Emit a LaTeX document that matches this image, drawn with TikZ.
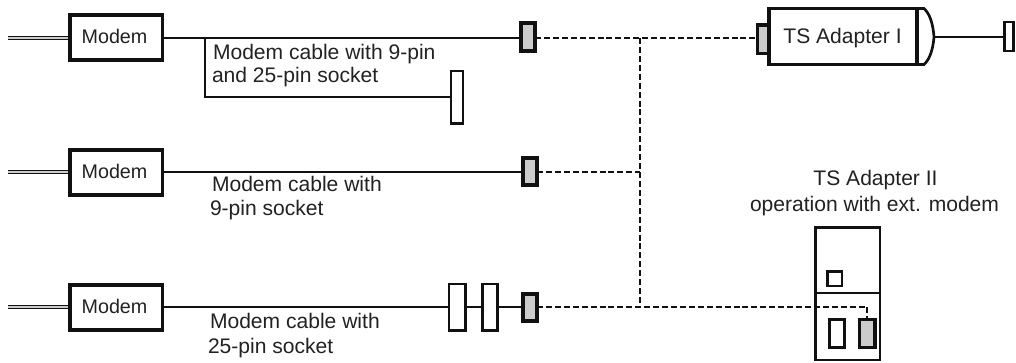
\documentclass[tikz,border=0pt]{standalone}
\usepackage{fontspec}
\setmainfont{Liberation Sans}
\definecolor{ink}{HTML}{111111}
\definecolor{txt}{HTML}{222222}
\definecolor{fillgray}{HTML}{CCCCCC}
\tikzset{
  every node/.style={inner sep=0pt,outer sep=0pt},
  hardbox/.style={draw=ink,line width=2.7pt,fill=white},
  thinbox/.style={draw=ink,line width=2.2pt,fill=white},
  graybox/.style={draw=ink,line width=2.6pt,fill=fillgray},
  wire/.style={draw=ink,line width=1.3pt},
  dashwire/.style={draw=ink,line width=1.3pt,dash pattern=on 4.5pt off 2.2pt},
  phone/.style={draw=ink,line width=1pt,double=fillgray,double distance=1.4pt},
  lbl/.style={font=\fontsize{15.8pt}{18pt}\selectfont,text=txt,anchor=base west},
  lblc/.style={font=\fontsize{15.8pt}{18pt}\selectfont,text=txt,anchor=base},
  modemlbl/.style={font=\fontsize{14.8pt}{18pt}\selectfont,text=txt,anchor=base}
}
\newcommand{\place}[7]{\node[#2,minimum width={(#5-#3)*0.75pt},minimum height={(#6-#4)*0.75pt}] (#1) at ({(#3+#5)/2},{(#4+#6)/2}) {#7};}
\begin{document}
\begin{tikzpicture}[x=0.75pt,y=-0.75pt]
\useasboundingbox (0,0) rectangle (1016,362);
\fill[white] (0,0) rectangle (1016,362);
% free ends and junctions
\coordinate (p1) at (8,38);
\coordinate (p2) at (8,172);
\coordinate (p3) at (8,307);
\coordinate (j1) at (205,38);
\coordinate (t1) at (640,38);
\coordinate (t2) at (640,172);
\coordinate (t3) at (640,307);
% wires first
\path[phone] (p1) -- (70,38);
\path[phone] (p2) -- (70,172);
\path[phone] (p3) -- (70,307);
% Modems
\place{m1}{hardbox}{70}{15}{162.5}{60}{}
\place{m2}{hardbox}{70}{150}{162.5}{195}{}
\place{m3}{hardbox}{70}{285}{162.5}{330}{}
\node[modemlbl] at (114.5,43) {Modem};
\node[modemlbl] at (114.5,178) {Modem};
\node[modemlbl] at (114.5,313) {Modem};
% Connectors
\place{g1}{graybox}{521}{23}{535}{51}{}
\place{g2}{graybox}{523}{158}{537}{185}{}
\place{g3}{graybox}{523}{294}{537}{321}{}
\place{s1}{thinbox}{451}{71}{463}{123.5}{}
\place{s2}{thinbox}{449}{284}{465.5}{330.5}{}
\place{s3}{thinbox}{482.5}{284}{497.5}{330.5}{}
% TS Adapter I
\place{ta}{hardbox}{769}{8.5}{917}{64.5}{}
\place{ga}{graybox}{757.5}{25}{769}{53.5}{}
\place{tip}{thinbox}{1004.5}{22}{1013.5}{51}{}
\coordinate (dome) at (934,37);
\draw[ink,line width=2pt] (ta.north east) -- (924,8.5) .. controls (930,14) and (933,24) .. (dome) .. controls (933,49) and (930,59) .. (924,64.5) -- (ta.south east);
\node[lblc] at (842.5,43) {TS Adapter I};
% TS Adapter II
\place{tb}{thinbox}{815.5}{227.5}{880}{360}{}
\coordinate (dl) at (815.5,293);
\coordinate (dr) at (880,293);
\draw[ink,line width=2pt] (dl) -- (dr);
\place{sq}{thinbox}{827.5}{271.5}{842}{286}{}
\place{so}{thinbox}{829.5}{319.5}{844.5}{347.5}{}
\place{gb}{graybox}{859.5}{319.5}{875}{347.5}{}
\node[lblc] at (875.5,185) {TS Adapter II};
\node[lblc] at (874.5,211) {operation with ext. modem};
% cables
\draw[wire] (m1.east |- j1) -- (g1.west |- j1);
\draw[wire] (j1) |- (s1.west);
\draw[wire] (m2.east |- t2) -- (g2.west |- t2);
\draw[wire] (m3.east |- t3) -- (s2.west |- t3);
\draw[wire] (s2.east |- t3) -- (s3.west |- t3);
\draw[wire] (s3.east |- t3) -- (g3.west |- t3);
\draw[wire] (dome) -- (tip.west |- dome);
% dashed
\draw[dashwire] (g1.east |- t1) -- (t1) -- (ga.west |- t1);
\draw[dashwire] (g2.east |- t2) -- (t2);
\draw[dashwire] (t1) -- (t3);
\draw[dashwire] (g3.east |- t3) -- (t3) -| (gb.north);
% labels
\node[lbl] at (213,59) {Modem cable with 9-pin};
\node[lbl] at (212,82) {and 25-pin socket};
\node[lbl] at (212,191) {Modem cable with};
\node[lbl] at (210,215) {9-pin socket};
\node[lbl] at (210,328) {Modem cable with};
\node[lbl] at (208,353) {25-pin socket};
\end{tikzpicture}
\end{document}
